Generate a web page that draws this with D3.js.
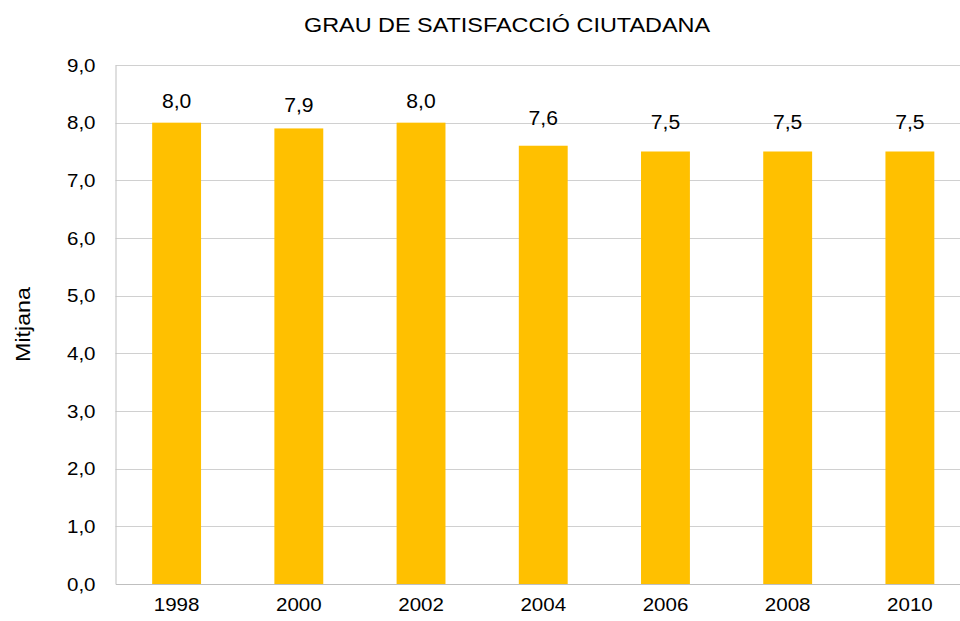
<!DOCTYPE html>
<html>
<head>
<meta charset="utf-8">
<script src="https://cdn.jsdelivr.net/npm/d3@7"></script>
<style>
  body { margin: 0; background: #fff; }
  text { font-family: "Liberation Sans", Arial, sans-serif; fill: #000; }
</style>
</head>
<body>
<div id="chart"></div>
<script>
var years = ["1998", "2000", "2002", "2004", "2006", "2008", "2010"];
var mitjana = [8.0, 7.9, 8.0, 7.6, 7.5, 7.5, 7.5];
var yTicks = [0, 1, 2, 3, 4, 5, 6, 7, 8, 9];

var W = 960, H = 621;
var margin = {top: 65, right: -11, bottom: 37, left: 115.5},
    width = W - margin.left - margin.right,
    height = H - margin.top - margin.bottom;

var fmt = function (v) { return d3.format(".1f")(v).replace(".", ","); };

// the original text is drawn a bit wider than Liberation Sans
function stretch(sel, k) {
    sel.each(function () {
        var len = this.getComputedTextLength();
        d3.select(this)
            .attr("textLength", len * k)
            .attr("lengthAdjust", "spacingAndGlyphs");
    });
}

var svg = d3.select("#chart")
    .append("svg")
    .attr("width", W)
    .attr("height", H);

svg.append("text")
    .attr("x", 507)
    .attr("y", 32)
    .attr("text-anchor", "middle")
    .style("font-size", "19.5px")
    .text("GRAU DE SATISFACCIÓ CIUTADANA")
    .call(stretch, 1.2);

svg.append("text")
    .attr("transform", "translate(30," + (margin.top + height / 2) + ") rotate(-90)")
    .attr("text-anchor", "middle")
    .style("font-size", "20px")
    .text("Mitjana")
    .call(stretch, 1.16);

var g = svg.append("g")
    .attr("transform", "translate(" + margin.left + "," + margin.top + ")");

var x = d3.scaleBand()
    .domain(years)
    .range([0, width])
    .paddingInner(0.6)
    .paddingOuter(0.3);

var y = d3.scaleLinear()
    .domain([0, 9])
    .range([height, 0]);

// gridlines
g.append("g")
    .selectAll("line")
    .data(yTicks.slice(1))
    .enter()
    .append("line")
    .attr("x1", 0)
    .attr("x2", width)
    .attr("y1", function (d) { return Math.round(y(d)) + 0.5; })
    .attr("y2", function (d) { return Math.round(y(d)) + 0.5; })
    .attr("stroke", "#d0d0d0")
    .attr("stroke-width", 1);

// bars
g.append("g")
    .selectAll("rect")
    .data(mitjana)
    .enter()
    .append("rect")
    .attr("x", function (d, i) { return x(years[i]); })
    .attr("y", function (d) { return y(d); })
    .attr("width", x.bandwidth())
    .attr("height", function (d) { return height - y(d); })
    .attr("fill", "#FFC000");

// value labels (they sit a little closer together than the bar tops)
g.append("g")
    .selectAll("text")
    .data(mitjana)
    .enter()
    .append("text")
    .attr("x", function (d, i) { return x(years[i]) + x.bandwidth() / 2; })
    .attr("y", function (d) { return y(d) * 0.73 - 6.4; })
    .attr("dy", "0.35em")
    .attr("text-anchor", "middle")
    .style("font-size", "20.5px")
    .text(fmt)
    .call(stretch, 1.03);

// y axis
var yAxis = g.append("g")
    .call(d3.axisLeft(y).tickValues(yTicks).tickFormat(fmt).tickSize(0).tickPadding(20));
yAxis.select(".domain").attr("stroke", "#bfbfbf");
yAxis.selectAll("text")
    .style("font-size", "19px")
    .style("font-family", "Liberation Sans, Arial, sans-serif")
    .call(stretch, 1.08);

// x axis
var xAxis = g.append("g")
    .attr("transform", "translate(0," + height + ")")
    .call(d3.axisBottom(x).tickSize(0).tickPadding(14));
xAxis.select(".domain").attr("stroke", "#bfbfbf");
xAxis.selectAll("text")
    .style("font-size", "18.5px")
    .style("font-family", "Liberation Sans, Arial, sans-serif")
    .call(stretch, 1.11);
</script>
</body>
</html>
